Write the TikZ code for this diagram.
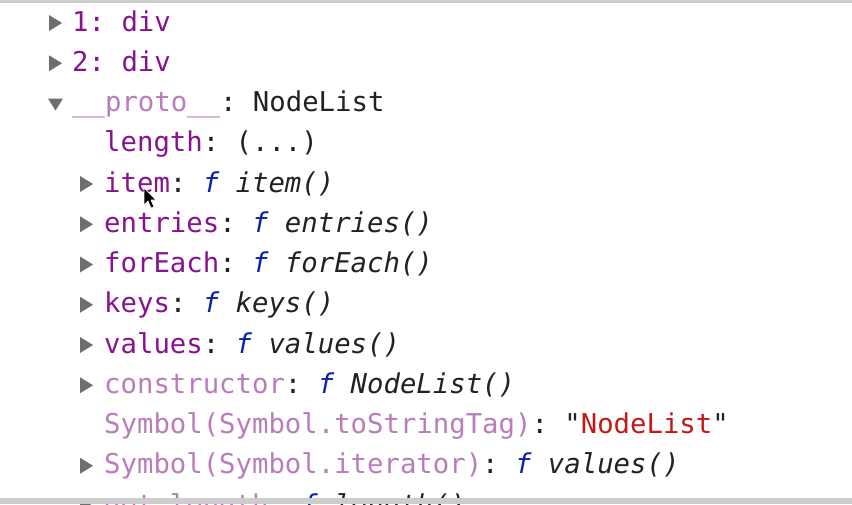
\documentclass[tikz,border=0pt]{standalone}
\usepackage{fontspec}
\setmonofont{DejaVu Sans Mono}[ItalicFont={DejaVu Sans Mono Oblique}]

\definecolor{keypurple}{RGB}{136,19,145}
\definecolor{dimpurple}{RGB}{185,125,188}
\definecolor{funcblue}{RGB}{13,34,170}
\definecolor{strred}{RGB}{196,26,22}
\definecolor{arrowgrey}{RGB}{110,110,110}
\definecolor{bargrey}{RGB}{205,205,205}
\definecolor{txtblack}{RGB}{34,34,34}

\newcommand{\fnval}[1]{{\itshape\textcolor{funcblue}{f} #1}}

\tikzset{
	line/.style={anchor=base west, inner sep=0pt, text=txtblack,
		font=\ttfamily\fontsize{27.3}{30}\selectfont},
	tri/.style={fill=arrowgrey}
}

\begin{document}
\begin{tikzpicture}[x=1pt, y=-1pt]
			\useasboundingbox (0,0) rectangle (852,504);
			\fill[white] (0,0) rectangle (852,504);

			\begin{scope}
			\clip (0,0) rectangle (852,504);

			% expand arrows
			\fill[tri] (49,15) -- (49,31) -- (62,23) -- cycle;
			\fill[tri] (49,55.25) -- (49,71.25) -- (62,63.25) -- cycle;
			\fill[tri] (48,98.5) -- (63,98.5) -- (55.5,110.5) -- cycle;

			\fill[tri] (80,176) -- (80,192) -- (93,184) -- cycle;
			\fill[tri] (80,216.25) -- (80,232.25) -- (93,224.25) -- cycle;
			\fill[tri] (80,256.5) -- (80,272.5) -- (93,264.5) -- cycle;
			\fill[tri] (80,296.75) -- (80,312.75) -- (93,304.75) -- cycle;
			\fill[tri] (80,337) -- (80,353) -- (93,345) -- cycle;
			\fill[tri] (80,377.25) -- (80,393.25) -- (93,385.25) -- cycle;
			\fill[tri] (80,457.75) -- (80,473.75) -- (93,465.75) -- cycle;
			\fill[tri] (80,498) -- (80,514) -- (93,506) -- cycle;

			% rows
			\node[line, text=keypurple] (one) at (72,31) {1: div};
			\node[line, text=keypurple] (two) at (72,71.25) {2: div};
			\node[line] (proto) at (72,111.5) {\textcolor{dimpurple}{\_\_proto\_\_}: NodeList};

			\node[line] (length) at (104,151.75) {\textcolor{keypurple}{length}: (...)};
			\node[line] (item) at (104,192) {\textcolor{keypurple}{item}: \fnval{item()}};
			\node[line] (entries) at (104,232.25) {\textcolor{keypurple}{entries}: \fnval{entries()}};
			\node[line] (foreach) at (104,272.5) {\textcolor{keypurple}{forEach}: \fnval{forEach()}};
			\node[line] (keys) at (104,312.75) {\textcolor{keypurple}{keys}: \fnval{keys()}};
			\node[line] (values) at (104,353) {\textcolor{keypurple}{values}: \fnval{values()}};
			\node[line] (ctor) at (104,393.25) {\textcolor{dimpurple}{constructor}: \fnval{NodeList()}};
			\node[line] (tag) at (104,433.5) {\textcolor{dimpurple}{Symbol(Symbol.toStringTag)}: "\textcolor{strred}{NodeList}"};
			\node[line] (iter) at (104,473.75) {\textcolor{dimpurple}{Symbol(Symbol.iterator)}: \fnval{values()}};
			\node[line] (getlen) at (104,514) {\textcolor{dimpurple}{get length}: \fnval{length()}};

			% mouse pointer
			\filldraw[black, draw=white, line width=0.6pt]
			(144,188) -- (144,205) -- (148,201) -- (151,208) -- (154,207)
			-- (151,200) -- (156,200) -- cycle;

			% window edges
			\fill[bargrey] (0,0) rectangle (852,2.5);
			\fill[bargrey] (0,498) rectangle (852,504);
			\end{scope}
		\end{tikzpicture}
\end{document}
